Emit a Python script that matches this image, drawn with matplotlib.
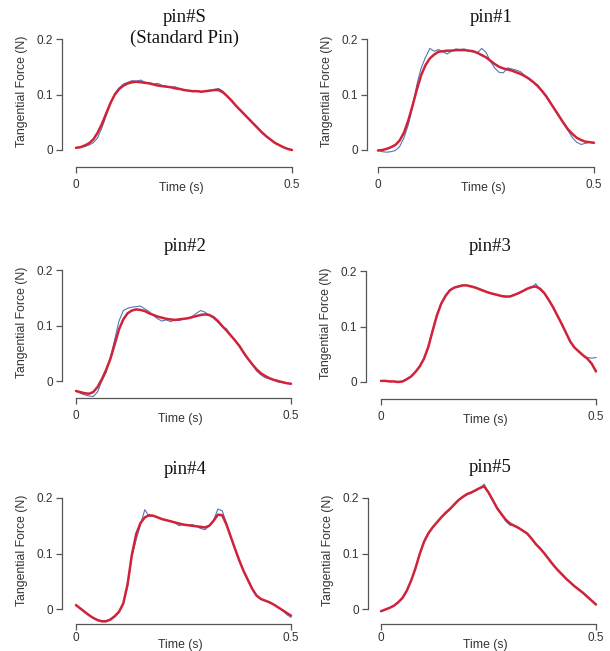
import numpy as np
import matplotlib
matplotlib.use("Agg")
import matplotlib.pyplot as plt

W, H = 610, 651

titles = [["pin#S", "(Standard Pin)"], ["pin#1"], ["pin#2"], ["pin#3"], ["pin#4"], ["pin#5"]]
x_label = "Time (s)"
y_label = "Tangential Force (N)"
x_ticks = [0, 0.5]
x_tick_labels = ["0", "0.5"]
y_ticks = [0, 0.1, 0.2]
y_tick_labels = ["0", "0.1", "0.2"]

time_s = np.round(np.arange(51) * 0.01, 3)

fit_S = [0.004, 0.005, 0.008, 0.012, 0.019, 0.031, 0.047, 0.066, 0.085, 0.100, 0.110, 0.116, 0.120,
         0.122, 0.123, 0.122, 0.121, 0.120, 0.118, 0.116, 0.115, 0.114, 0.113, 0.111, 0.110, 0.108,
         0.107, 0.106, 0.106, 0.105, 0.106, 0.107, 0.108, 0.108, 0.104, 0.097, 0.089, 0.080, 0.072,
         0.064, 0.056, 0.048, 0.040, 0.032, 0.025, 0.019, 0.013, 0.009, 0.005, 0.002, 0.000]
meas_S = [0.003, 0.005, 0.006, 0.009, 0.013, 0.022, 0.040, 0.062, 0.084, 0.102, 0.112, 0.119, 0.122,
          0.125, 0.124, 0.126, 0.122, 0.121, 0.119, 0.120, 0.116, 0.115, 0.113, 0.114, 0.110, 0.109,
          0.107, 0.105, 0.107, 0.105, 0.106, 0.107, 0.109, 0.111, 0.106, 0.097, 0.090, 0.080, 0.072,
          0.063, 0.057, 0.048, 0.041, 0.032, 0.025, 0.019, 0.013, 0.009, 0.005, 0.002, 0.000]

fit_1 = [-0.001, 0.000, 0.002, 0.005, 0.009, 0.017, 0.031, 0.053, 0.080, 0.109, 0.135, 0.153, 0.165,
         0.172, 0.177, 0.178, 0.179, 0.179, 0.180, 0.180, 0.180, 0.179, 0.178, 0.175, 0.171, 0.167,
         0.161, 0.155, 0.150, 0.147, 0.145, 0.143, 0.140, 0.137, 0.133, 0.128, 0.122, 0.115, 0.106,
         0.096, 0.084, 0.072, 0.060, 0.048, 0.037, 0.029, 0.022, 0.018, 0.015, 0.014, 0.013]
meas_1 = [0.000, -0.003, -0.004, -0.003, -0.001, 0.006, 0.022, 0.045, 0.078, 0.118, 0.148, 0.167, 0.183,
          0.178, 0.181, 0.177, 0.173, 0.178, 0.182, 0.181, 0.182, 0.178, 0.177, 0.175, 0.183, 0.176,
          0.160, 0.148, 0.140, 0.139, 0.148, 0.146, 0.144, 0.141, 0.134, 0.129, 0.122, 0.117, 0.106,
          0.098, 0.085, 0.072, 0.060, 0.047, 0.035, 0.022, 0.014, 0.010, 0.012, 0.014, 0.013]

fit_2 = [-0.018, -0.020, -0.022, -0.023, -0.020, -0.011, 0.003, 0.020, 0.040, 0.066, 0.093, 0.111, 0.122,
         0.127, 0.129, 0.128, 0.126, 0.122, 0.119, 0.116, 0.114, 0.112, 0.111, 0.110, 0.111, 0.112,
         0.113, 0.115, 0.117, 0.119, 0.120, 0.119, 0.115, 0.108, 0.099, 0.091, 0.082, 0.073, 0.063,
         0.051, 0.040, 0.030, 0.021, 0.014, 0.009, 0.005, 0.002, 0.000, -0.002, -0.004, -0.005]
meas_2 = [-0.018, -0.022, -0.025, -0.027, -0.028, -0.020, 0.000, 0.015, 0.042, 0.075, 0.108, 0.127, 0.131,
          0.133, 0.134, 0.135, 0.130, 0.125, 0.118, 0.112, 0.108, 0.110, 0.107, 0.110, 0.109, 0.112,
          0.113, 0.116, 0.122, 0.127, 0.124, 0.118, 0.113, 0.106, 0.098, 0.094, 0.082, 0.073, 0.064,
          0.050, 0.041, 0.030, 0.018, 0.011, 0.006, 0.004, 0.002, -0.002, -0.003, -0.004, -0.005]

fit_3 = [0.002, 0.002, 0.001, 0.001, 0.000, 0.001, 0.005, 0.010, 0.018, 0.028, 0.042, 0.063, 0.092,
         0.120, 0.141, 0.155, 0.165, 0.170, 0.172, 0.174, 0.174, 0.172, 0.170, 0.167, 0.164, 0.161,
         0.159, 0.157, 0.155, 0.154, 0.154, 0.157, 0.160, 0.164, 0.168, 0.171, 0.172, 0.168, 0.160,
         0.148, 0.135, 0.120, 0.105, 0.089, 0.073, 0.062, 0.055, 0.048, 0.042, 0.033, 0.019]
meas_3 = [0.002, 0.002, 0.001, 0.001, 0.000, 0.001, 0.005, 0.010, 0.018, 0.028, 0.043, 0.065, 0.094,
          0.122, 0.142, 0.156, 0.166, 0.170, 0.173, 0.175, 0.174, 0.173, 0.170, 0.166, 0.163, 0.162,
          0.158, 0.157, 0.154, 0.153, 0.155, 0.157, 0.161, 0.164, 0.168, 0.170, 0.177, 0.166, 0.160,
          0.148, 0.135, 0.120, 0.105, 0.089, 0.073, 0.062, 0.054, 0.048, 0.044, 0.043, 0.044]

fit_4 = [0.007, 0.001, -0.005, -0.011, -0.016, -0.020, -0.022, -0.022, -0.019, -0.013, -0.005, 0.010, 0.045,
         0.098, 0.135, 0.155, 0.165, 0.169, 0.168, 0.165, 0.162, 0.160, 0.158, 0.156, 0.154, 0.152,
         0.151, 0.150, 0.149, 0.148, 0.147, 0.150, 0.159, 0.170, 0.169, 0.152, 0.130, 0.108, 0.087,
         0.068, 0.052, 0.036, 0.024, 0.018, 0.015, 0.012, 0.008, 0.003, -0.002, -0.007, -0.012]
meas_4 = [0.008, 0.001, -0.005, -0.011, -0.016, -0.020, -0.023, -0.023, -0.020, -0.014, -0.006, 0.010, 0.040,
          0.095, 0.125, 0.152, 0.179, 0.167, 0.167, 0.165, 0.162, 0.160, 0.159, 0.155, 0.150, 0.153,
          0.151, 0.152, 0.149, 0.145, 0.143, 0.150, 0.160, 0.180, 0.177, 0.155, 0.130, 0.108, 0.086,
          0.068, 0.051, 0.036, 0.024, 0.018, 0.015, 0.013, 0.008, 0.003, -0.002, -0.010, -0.015]

fit_5 = [-0.004, -0.001, 0.002, 0.006, 0.012, 0.020, 0.033, 0.051, 0.073, 0.099, 0.121, 0.136, 0.147,
         0.156, 0.165, 0.173, 0.180, 0.188, 0.196, 0.202, 0.207, 0.210, 0.214, 0.218, 0.221, 0.210,
         0.196, 0.182, 0.171, 0.161, 0.154, 0.150, 0.146, 0.141, 0.136, 0.127, 0.117, 0.109, 0.100,
         0.090, 0.080, 0.071, 0.063, 0.055, 0.048, 0.041, 0.035, 0.029, 0.022, 0.015, 0.008]
meas_5 = [-0.004, -0.001, 0.002, 0.006, 0.012, 0.020, 0.033, 0.051, 0.073, 0.100, 0.122, 0.137, 0.147,
          0.156, 0.165, 0.172, 0.180, 0.189, 0.196, 0.201, 0.206, 0.209, 0.213, 0.218, 0.225, 0.209,
          0.195, 0.180, 0.171, 0.158, 0.151, 0.150, 0.147, 0.141, 0.136, 0.127, 0.117, 0.110, 0.101,
          0.090, 0.080, 0.071, 0.063, 0.055, 0.048, 0.041, 0.035, 0.029, 0.022, 0.015, 0.008]

fits = [fit_S, fit_1, fit_2, fit_3, fit_4, fit_5]
meas = [meas_S, meas_1, meas_2, meas_3, meas_4, meas_5]

# layout in pixels: x at t=0, x at t=0.5, y-axis x, y at v=0, y at v=0.2, x-axis y, title x, title y, tick-label pad
layout = [
    (76, 292, 62, 150, 39, 167, 185, 18, 4.5),
    (378, 594, 367, 150, 39, 167, 491, 18, 4.5),
    (76, 291, 62, 381, 270, 398, 185, 247, 4.5),
    (381, 596, 366, 382, 271, 399, 490, 247, 4.5),
    (76, 291, 62, 609, 498, 624, 185, 470, 1.5),
    (381, 596, 368, 609, 498, 624, 490, 468, 1.5),
]

BLUE = "#4f78b4"
RED = "#d0233a"
AX = "#555555"
TXT = "#333333"
SANS = "Liberation Sans"
SERIF = "Liberation Serif"

fig = plt.figure(figsize=(W / 100, H / 100), dpi=100)

for i, (x0, x5, yax, y0, y2, xax, tx, ty, xpad) in enumerate(layout):
    right = x5 + 10
    top = y2 - 28
    ax = fig.add_axes([yax / W, 1 - xax / H, (right - yax) / W, (xax - top) / H])
    ax.set_xlim((yax - x0) / (x5 - x0) * 0.5, (right - x0) / (x5 - x0) * 0.5)
    ax.set_ylim((y0 - xax) / (y0 - y2) * 0.2, (y0 - top) / (y0 - y2) * 0.2)
    ax.patch.set_alpha(0)
    ax.plot(time_s, meas[i], color=BLUE, lw=0.8, zorder=2)
    ax.plot(time_s, fits[i], color=RED, lw=1.8, zorder=3, solid_capstyle="round",
            solid_joinstyle="round")
    for s in ["top", "right"]:
        ax.spines[s].set_visible(False)
    ax.spines["left"].set_bounds(0, 0.2)
    ax.spines["bottom"].set_bounds(0, 0.5)
    for s in ["left", "bottom"]:
        ax.spines[s].set_color(AX)
        ax.spines[s].set_linewidth(0.9)
    ax.set_xticks(x_ticks)
    ax.set_xticklabels(x_tick_labels, fontfamily=SANS, fontsize=8.5, color=TXT)
    ax.set_yticks(y_ticks)
    ax.set_yticklabels(y_tick_labels, fontfamily=SANS, fontsize=8.5, color=TXT)
    ax.tick_params(axis="both", direction="out", length=4.3, width=0.9, color=AX)
    ax.tick_params(axis="y", pad=2)
    ax.tick_params(axis="x", pad=xpad)
    fig.text((x0 + x5) / 2 / W - 3 / W, 1 - (xax + 21) / H, x_label, ha="center", va="center",
             fontfamily=SANS, fontsize=8.8, color=TXT)
    fig.text((yax - 40) / W, 1 - ((y0 + y2) / 2 - 3.5) / H, y_label, ha="center", va="center",
             rotation=90, fontfamily=SANS, fontsize=8.8, color=TXT)
    for k, line in enumerate(titles[i]):
        fig.text(tx / W, 1 - (ty + 20 * k) / H, line, ha="center", va="center",
                 fontfamily=SERIF, fontsize=13.5, color="#111111")

fig.savefig("out.png", dpi=100, facecolor="white")
